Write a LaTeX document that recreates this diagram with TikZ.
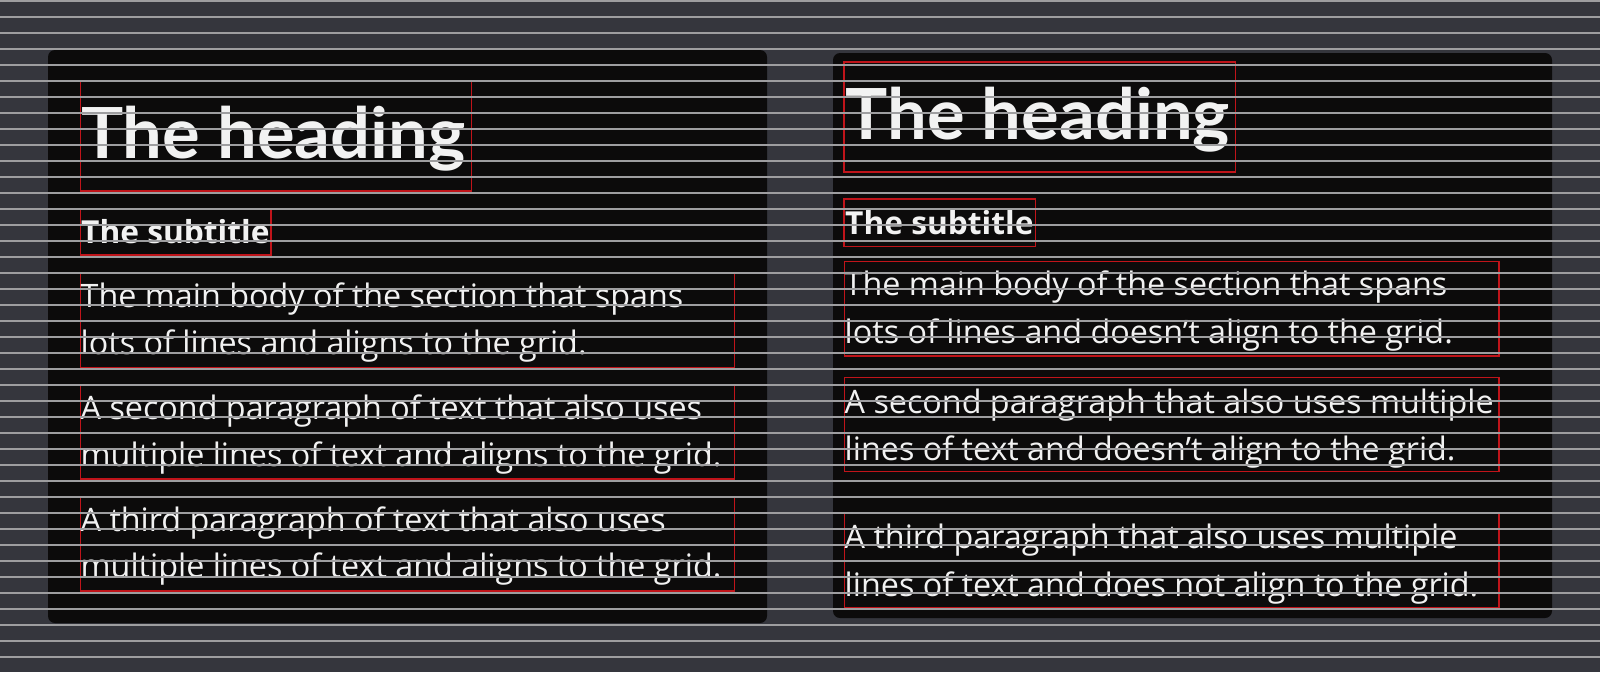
\documentclass[tikz,border=0pt]{standalone}
\usepackage{fontspec}
\setmainfont{Open Sans}
\newfontfamily\headfont{Lato}
\newfontfamily\bodyfont{Open Sans}
\definecolor{bgcol}{HTML}{35363D}
\definecolor{panelcol}{HTML}{0C0B0B}
\definecolor{gridcol}{HTML}{9E9EA0}
\definecolor{boxred}{HTML}{C0141A}
\definecolor{txtcol}{HTML}{F2F2F2}
\tikzset{
  panel/.style={fill=panelcol, rounded corners=7pt, draw=none},
  redbox/.style={draw=boxred, line width=1.4pt},
  headtxt/.style={anchor=base west, inner sep=0pt, text=txtcol, font=\headfont\bfseries\fontsize{70.5}{74}\selectfont},
  subtxt/.style={anchor=base west, inner sep=0pt, text=txtcol, font=\bodyfont\bfseries\fontsize{31.7}{34}\selectfont},
  bodytxt/.style={anchor=base west, inner sep=0pt, text=txtcol, font=\bodyfont\fontsize{32.3}{36}\selectfont},
  gridline/.style={draw=gridcol, line width=1.8pt}
}
\begin{document}
\begin{tikzpicture}[x=1pt,y=-1pt]
\useasboundingbox (0,0) rectangle (1600,672);
\fill[bgcol] (0,0) rectangle (1600,672);
% panels
\path[panel] (48,50) rectangle (767,623);
\path[panel] (833,53) rectangle (1552,618);
% left panel
\draw[redbox] (80.7,80.7) rectangle (471.7,191);
\node[headtxt] (lh) at (81,158) {The heading};
\draw[redbox] (80.7,209) rectangle (271,255);
\node[subtxt] (ls) at (81,243) {The subtitle};
\draw[redbox] (80.7,272.7) rectangle (734.7,367.2);
\node[bodytxt] (lb1a) at (80.5,307.4) {The main body of the section that spans};
\node[bodytxt] (lb1b) at (80.5,354.2) {lots of lines and aligns to the grid.};
\draw[redbox] (80.7,384.5) rectangle (734.7,479);
\node[bodytxt] (lb2a) at (80.5,419.2) {A second paragraph of text that also uses};
\node[bodytxt] (lb2b) at (80.5,466) {multiple lines of text and aligns to the grid.};
\draw[redbox] (80.7,496.3) rectangle (734.7,590.8);
\node[bodytxt] (lb3a) at (80.5,531) {A third paragraph of text that also uses};
\node[bodytxt] (lb3b) at (80.5,577.8) {multiple lines of text and aligns to the grid.};
% right panel
\draw[redbox] (844,62) rectangle (1235.7,172);
\node[headtxt] (rh) at (845.5,139) {The heading};
\draw[redbox] (844,199) rectangle (1035.7,246.7);
\node[subtxt] (rs) at (845,234) {The subtitle};
\draw[redbox] (844.3,261.7) rectangle (1499,356);
\node[bodytxt] (rb1a) at (844.5,295.7) {The main body of the section that spans};
\node[bodytxt] (rb1b) at (844.5,343.3) {lots of lines and doesn’t align to the grid.};
\draw[redbox] (844.3,377.7) rectangle (1499,471.7);
\node[bodytxt] (rb2a) at (844.5,413.3) {A second paragraph that also uses multiple};
\node[bodytxt] (rb2b) at (844.5,460) {lines of text and doesn’t align to the grid.};
\draw[redbox] (844.3,513.3) rectangle (1499,607.7);
\node[bodytxt] (rb3a) at (844.5,548.3) {A third paragraph that also uses multiple};
\node[bodytxt] (rb3b) at (844.5,596) {lines of text and does not align to the grid.};
% grid lines
\foreach \k in {0,...,41} {
  \draw[gridline] (0,0.7+16*\k) -- (1600,0.7+16*\k);
}
\end{tikzpicture}
\end{document}
